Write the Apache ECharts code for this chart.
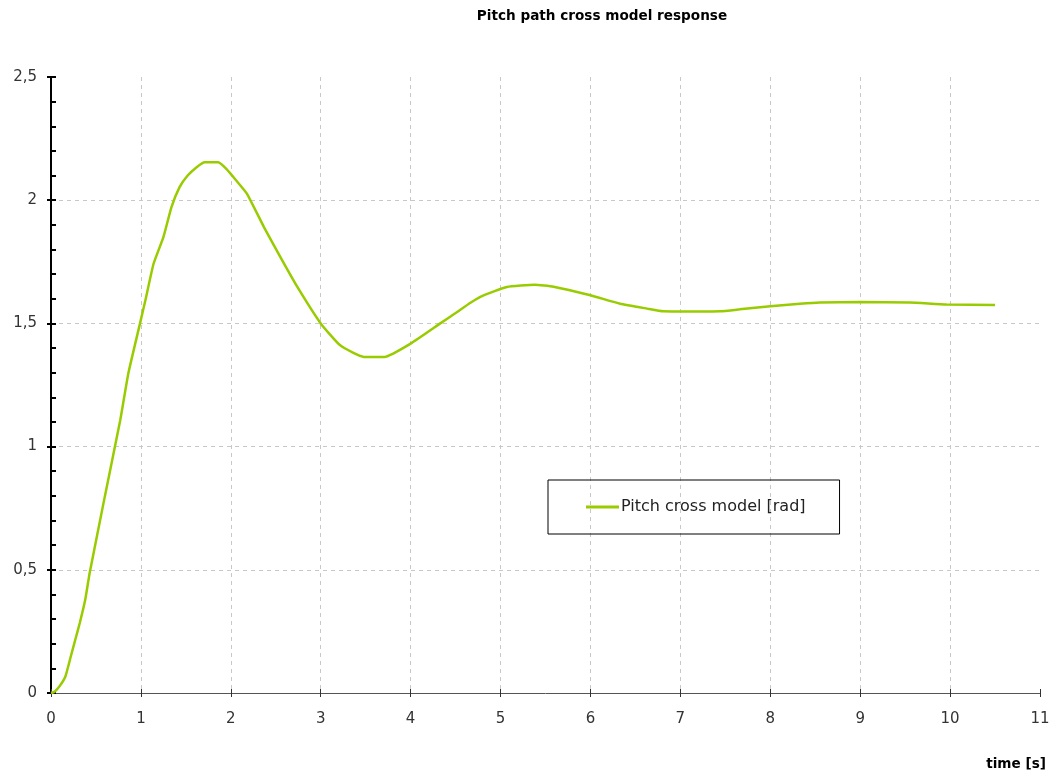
<!DOCTYPE html>
<html>
<head>
<meta charset="utf-8">
<script src="https://cdn.jsdelivr.net/npm/echarts@6/dist/echarts.min.js"></script>
<style>
html,body{margin:0;padding:0;background:#fff;}
#chart{width:1053px;height:776px;}
</style>
</head>
<body>
<div id="chart"></div>
<script>
const titleText = 'Pitch path cross model response';
const xAxisName = 'time [s]';
const seriesName = 'Pitch cross model [rad]';
const timeValues = [0, 0.04, 0.1, 0.16, 0.22, 0.27, 0.32, 0.38, 0.43, 0.6, 0.77, 0.86, 0.99, 1.05, 1.14, 1.25, 1.34, 1.43, 1.52, 1.62, 1.71, 1.86, 1.95, 2.06, 2.18, 2.37, 2.55, 2.74, 3.0, 3.22, 3.48, 3.71, 4.0, 4.33, 4.5, 4.67, 4.8, 5.07, 5.38, 5.59, 6.0, 6.33, 6.63, 6.81, 7.22, 7.44, 7.66, 8.0, 8.33, 8.55, 9.0, 9.55, 9.96, 10.5];
const pitchValues = [0, 0.005, 0.03, 0.067, 0.148, 0.216, 0.284, 0.377, 0.487, 0.8, 1.107, 1.297, 1.5, 1.594, 1.741, 1.85, 1.972, 2.053, 2.1, 2.134, 2.154, 2.154, 2.127, 2.08, 2.026, 1.89, 1.77, 1.648, 1.5, 1.41, 1.364, 1.364, 1.418, 1.5, 1.542, 1.585, 1.612, 1.648, 1.657, 1.649, 1.614, 1.58, 1.56, 1.549, 1.548, 1.549, 1.557, 1.57, 1.58, 1.585, 1.587, 1.585, 1.577, 1.575];
const yMin = 0, yMax = 2.5, yInterval = 0.5;
const xMin = 0, xMax = 11, xInterval = 1;

const data = timeValues.map((t, i) => [t, pitchValues[i]]);
const fmt = v => String(v).replace('.', ',');
const labelFont = {color: '#333', fontFamily: 'DejaVu Sans', fontSize: 15};

const chart = echarts.init(document.getElementById('chart'));
chart.setOption({
  animation: false,
  backgroundColor: '#fff',
  title: {
    text: titleText, left: 597, top: 4, textAlign: 'center',
    textStyle: {fontFamily: 'DejaVu Sans', fontSize: 13.6, fontWeight: 'bold', color: '#000'}
  },
  grid: {left: 51, right: 13, top: 77, bottom: 83, containLabel: false},
  legend: {
    left: 548, top: 480,
    padding: [19, 34, 19, 38],
    borderColor: '#000', borderWidth: 1,
    itemWidth: 33, itemHeight: 3, icon: 'rect', itemGap: 4,
    textStyle: {fontFamily: 'DejaVu Sans', fontSize: 16, color: '#222', padding: [0, 0, 0, -3]},
    data: [seriesName]
  },
  xAxis: [{
    type: 'value', min: xMin, max: xMax, interval: xInterval,
    axisLine: {lineStyle: {color: '#555', width: 1}},
    axisTick: {show: true, inside: true, length: 4, lineStyle: {color: '#333'}},
    axisLabel: Object.assign({margin: 19}, labelFont),
    splitLine: {show: true, showMinLine: false, showMaxLine: false, lineStyle: {color: '#c8c8c8', type: [4, 4]}}
  }, {
    type: 'value', min: xMin, max: xMax, interval: xInterval, position: 'bottom',
    axisLine: {show: false},
    axisTick: {show: true, inside: false, length: 4, lineStyle: {color: '#333'}},
    axisLabel: {show: false}, splitLine: {show: false}
  }],
  yAxis: [{
    type: 'value', min: yMin, max: yMax, interval: yInterval,
    axisLine: {show: true, lineStyle: {color: '#000', width: 2}},
    axisTick: {show: true, inside: true, length: 5, lineStyle: {color: '#000', width: 2}},
    minorTick: {show: true, splitNumber: 5, length: 5, lineStyle: {color: '#000', width: 2}},
    axisLabel: Object.assign({margin: 14, formatter: fmt}, labelFont),
    splitLine: {show: true, showMinLine: false, showMaxLine: false, lineStyle: {color: '#c8c8c8', type: [4, 4]}}
  }, {
    type: 'value', min: yMin, max: yMax, interval: yInterval, position: 'left',
    axisLine: {show: false},
    axisTick: {show: true, inside: false, length: 4, lineStyle: {color: '#000', width: 2}},
    axisLabel: {show: false}, splitLine: {show: false}
  }],
  graphic: [{
    type: 'text', right: 7, top: 757,
    style: {text: xAxisName, font: 'bold 13.6px "DejaVu Sans"', fill: '#000'}
  }],
  series: [{
    name: seriesName, type: 'line', data: data,
    xAxisIndex: 0, yAxisIndex: 0,
    showSymbol: false, smooth: 0.15,
    lineStyle: {color: '#99cc00', width: 2.5},
    itemStyle: {color: '#99cc00'}
  }]
});
</script>
</body>
</html>
